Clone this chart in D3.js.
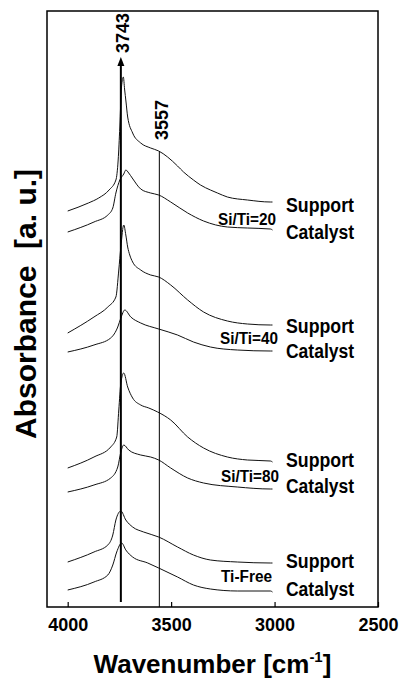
<!DOCTYPE html>
<html>
<head>
<meta charset="utf-8">
<script src="https://cdn.jsdelivr.net/npm/d3@7"></script>
<style>
  body { margin: 0; background: #fff; }
  svg { display: block; }
  text { font-family: "Liberation Sans", Arial, Helvetica, sans-serif; font-weight: bold; fill: #000; }
</style>
</head>
<body>
<svg id="chart" width="401" height="678"></svg>
<script>
// Hydroxyl-region IR spectra, [wavenumber cm-1, absorbance a.u.], stacked with offsets
const support20 = [[4000,3.96],[3900,4.04],[3850,4.09],[3800,4.17],[3767,4.27],[3756,4.47],[3748,4.80],[3740,5.20],[3731,5.30],[3725,5.18],[3718,5.05],[3710,4.90],[3686,4.74],[3647,4.64],[3599,4.59],[3560,4.56],[3517,4.50],[3469,4.41],[3440,4.35],[3392,4.27],[3358,4.22],[3310,4.17],[3276,4.14],[3228,4.10],[3131,4.07],[3020,4.05],[3010,4.05]];
const catalyst20 = [[4000,3.75],[3873,3.85],[3806,3.92],[3782,3.99],[3767,4.14],[3748,4.27],[3729,4.33],[3719,4.37],[3705,4.34],[3688,4.29],[3647,4.18],[3599,4.14],[3560,4.12],[3502,4.05],[3420,3.94],[3343,3.86],[3228,3.80],[3131,3.79],[3020,3.78],[3010,3.77]];
const support40 = [[4000,2.74],[3873,2.90],[3806,3.00],[3767,3.10],[3753,3.37],[3743,3.60],[3729,3.82],[3719,3.72],[3710,3.60],[3700,3.52],[3686,3.45],[3647,3.37],[3599,3.32],[3560,3.30],[3502,3.22],[3420,3.07],[3343,2.95],[3228,2.86],[3131,2.83],[3020,2.82],[3010,2.82]];
const catalyst40 = [[4000,2.55],[3873,2.62],[3792,2.69],[3758,2.80],[3743,2.89],[3724,2.97],[3695,2.90],[3647,2.84],[3560,2.78],[3469,2.72],[3392,2.65],[3310,2.60],[3180,2.57],[3020,2.56],[3010,2.56]];
const support80 = [[4000,1.39],[3873,1.50],[3792,1.60],[3763,1.70],[3753,1.97],[3743,2.24],[3729,2.34],[3710,2.20],[3686,2.09],[3647,2.02],[3608,1.99],[3565,1.95],[3502,1.87],[3420,1.70],[3343,1.59],[3228,1.50],[3131,1.47],[3020,1.46],[3010,1.45]];
const catalyst80 = [[4000,1.15],[3873,1.22],[3792,1.29],[3758,1.40],[3743,1.55],[3729,1.62],[3705,1.57],[3647,1.52],[3599,1.50],[3560,1.47],[3502,1.39],[3420,1.29],[3343,1.24],[3180,1.20],[3020,1.18],[3010,1.18]];
const supportFree = [[4000,0.45],[3873,0.55],[3806,0.62],[3782,0.72],[3767,0.87],[3743,0.96],[3719,0.87],[3686,0.80],[3633,0.75],[3560,0.70],[3469,0.60],[3392,0.52],[3310,0.47],[3180,0.45],[3020,0.44],[3010,0.44]];
const catalystFree = [[4000,0.17],[3873,0.25],[3806,0.32],[3782,0.42],[3763,0.55],[3739,0.64],[3719,0.57],[3686,0.50],[3613,0.44],[3560,0.39],[3469,0.30],[3392,0.22],[3310,0.18],[3180,0.16],[3020,0.16],[3010,0.15]];

const spectra = [support20, catalyst20, support40, catalyst40, support80, catalyst80, supportFree, catalystFree];
const sampleNames = ["Si/Ti=20", "Si/Ti=40", "Si/Ti=80", "Ti-Free"];
const kindNames = ["Support", "Catalyst"];
const xTickValues = [4000, 3500, 3000, 2500];
const peakIsolated = 3743;   // isolated silanol band
const peakShoulder = 3557;   // H-bonded shoulder
const arrowTopValue = 5.50;

// Layout
const plot = { left: 47, right: 378, top: 11, bottom: 607 };
const labelX = 286;
const groupLayout = [
  { sampleRight: 276, sampleBase: 225, supportBase: 212, catalystBase: 239 },
  { sampleRight: 278, sampleBase: 344, supportBase: 333, catalystBase: 358 },
  { sampleRight: 279, sampleBase: 482, supportBase: 467, catalystBase: 493 },
  { sampleRight: 272, sampleBase: 582, supportBase: 568, catalystBase: 596 }
];

const svg = d3.select("#chart");
const x = d3.scaleLinear().domain([4100, 2500]).range([plot.left, plot.right]);
const y = d3.scaleLinear().domain([0, 5.96]).range([plot.bottom, plot.top]);

const line = d3.line()
  .x(d => x(d[0]))
  .y(d => y(d[1]))
  .curve(d3.curveMonotoneX);

// Spectra
svg.append("g")
  .selectAll("path")
  .data(spectra)
  .join("path")
  .attr("d", line)
  .attr("fill", "none")
  .attr("stroke", "#111")
  .attr("stroke-width", 1);

// Shoulder marker: from the top spectrum down to the axis
const interp = (data, wn) => {
  for (let i = 0; i < data.length - 1; i++) {
    const [a, va] = data[i], [b, vb] = data[i + 1];
    if (wn <= a && wn >= b) return va + (vb - va) * (a - wn) / (a - b);
  }
  return data[0][1];
};
svg.append("line")
  .attr("x1", x(peakShoulder)).attr("x2", x(peakShoulder))
  .attr("y1", y(interp(support20, peakShoulder)))
  .attr("y2", plot.bottom)
  .attr("stroke", "#000").attr("stroke-width", 1);

// Isolated silanol marker with arrow
const ax = x(peakIsolated);
svg.append("line")
  .attr("x1", ax).attr("x2", ax)
  .attr("y1", y(0.05))
  .attr("y2", y(arrowTopValue) + 6)
  .attr("stroke", "#000").attr("stroke-width", 2);
svg.append("path")
  .attr("d", `M${ax},${y(arrowTopValue)} L${ax - 3.5},${y(arrowTopValue) + 9} L${ax + 3.5},${y(arrowTopValue) + 9} Z`)
  .attr("fill", "#000");

// Peak labels
svg.append("text")
  .attr("transform", `translate(${ax + 8},33) rotate(-90)`)
  .attr("text-anchor", "middle")
  .attr("font-size", 18)
  .text(peakIsolated);
svg.append("text")
  .attr("transform", `translate(${x(peakShoulder) + 9},120) rotate(-90)`)
  .attr("text-anchor", "middle")
  .attr("font-size", 18)
  .text(peakShoulder);

// Frame
svg.append("rect")
  .attr("x", plot.left).attr("y", plot.top)
  .attr("width", plot.right - plot.left).attr("height", plot.bottom - plot.top)
  .attr("fill", "none").attr("stroke", "#000").attr("stroke-width", 1.5);

// Bottom axis (inward ticks)
const xAxis = d3.axisBottom(x).tickValues(xTickValues).tickSize(-5).tickPadding(10).tickFormat(d3.format("d"));
const gx = svg.append("g").attr("transform", `translate(0,${plot.bottom})`).call(xAxis);
gx.select(".domain").remove();
gx.selectAll("line").attr("stroke", "#000").attr("stroke-width", 1.2);
gx.selectAll("text").attr("font-size", 18).attr("font-family", null).attr("fill", "#000").attr("dy", "0.75em");

// Axis titles
const xt = svg.append("text")
  .attr("x", (plot.left + plot.right) / 2)
  .attr("y", 673)
  .attr("text-anchor", "middle")
  .attr("font-size", 26);
xt.append("tspan").text("Wavenumber [cm");
xt.append("tspan").attr("font-size", 15).attr("dy", -11).text("-1");
xt.append("tspan").attr("dy", 11).text("]");

svg.append("text")
  .attr("transform", `translate(36,304) rotate(-90)`)
  .attr("text-anchor", "middle")
  .attr("font-size", 30)
  .attr("xml:space", "preserve")
  .text("Absorbance  [a. u.]");

// Series labels
groupLayout.forEach((g, i) => {
  svg.append("text")
    .attr("x", g.sampleRight).attr("y", g.sampleBase)
    .attr("text-anchor", "end")
    .attr("font-size", 16)
    .attr("textLength", i === 3 ? 51 : 58)
    .attr("lengthAdjust", "spacingAndGlyphs")
    .text(sampleNames[i]);
  svg.append("text")
    .attr("x", labelX).attr("y", g.supportBase)
    .attr("font-size", 20)
    .attr("textLength", 68)
    .attr("lengthAdjust", "spacingAndGlyphs")
    .text(kindNames[0]);
  svg.append("text")
    .attr("x", labelX).attr("y", g.catalystBase)
    .attr("font-size", 20)
    .attr("textLength", 68)
    .attr("lengthAdjust", "spacingAndGlyphs")
    .text(kindNames[1]);
});
</script>
</body>
</html>
